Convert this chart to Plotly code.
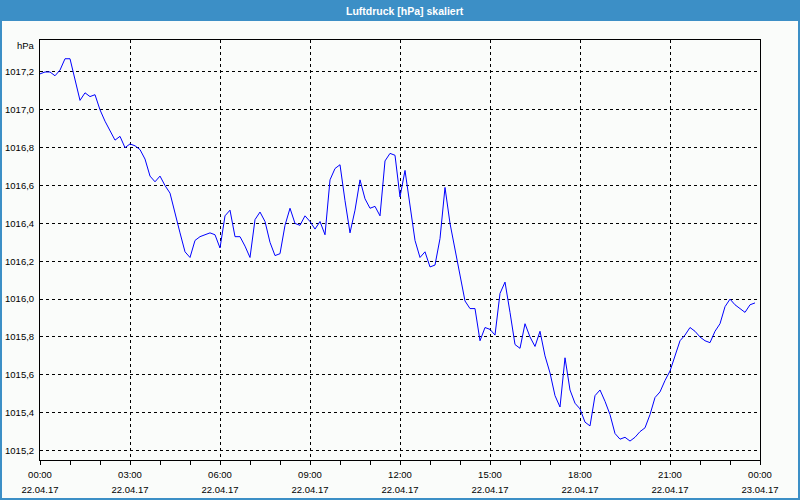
import plotly.graph_objects as go
import pandas as pd

# ---- data (10-minute readings, 22.04.17 00:00 onward) ----
start_time = "2017-04-22 00:00"
step = "10min"
pressure_hpa = [
    1017.19, 1017.20, 1017.20, 1017.18, 1017.21, 1017.27, 1017.27, 1017.16, 1017.05, 1017.09,
    1017.07, 1017.08, 1017.00, 1016.94, 1016.89, 1016.84, 1016.86, 1016.80, 1016.82, 1016.81,
    1016.79, 1016.74, 1016.65, 1016.62, 1016.65, 1016.60, 1016.56, 1016.45, 1016.35, 1016.25,
    1016.22, 1016.31, 1016.33, 1016.34, 1016.35, 1016.34, 1016.27, 1016.44, 1016.47, 1016.33,
    1016.33, 1016.28, 1016.22, 1016.42, 1016.46, 1016.41, 1016.30, 1016.23, 1016.24, 1016.39,
    1016.48, 1016.40, 1016.39, 1016.44, 1016.41, 1016.37, 1016.41, 1016.34, 1016.63, 1016.69,
    1016.71, 1016.52, 1016.35, 1016.47, 1016.63, 1016.53, 1016.48, 1016.49, 1016.44, 1016.73,
    1016.77, 1016.76, 1016.54, 1016.68, 1016.48, 1016.31, 1016.22, 1016.25, 1016.17, 1016.18,
    1016.32, 1016.59, 1016.40, 1016.26, 1016.12, 1015.99, 1015.95, 1015.95, 1015.78, 1015.85,
    1015.84, 1015.81, 1016.03, 1016.09, 1015.93, 1015.76, 1015.74, 1015.87, 1015.80, 1015.75,
    1015.83, 1015.70, 1015.61, 1015.49, 1015.43, 1015.69, 1015.52, 1015.45, 1015.42, 1015.35,
    1015.33, 1015.49, 1015.52, 1015.46, 1015.39, 1015.29, 1015.26, 1015.27, 1015.25, 1015.27,
    1015.30, 1015.32, 1015.39, 1015.48, 1015.51, 1015.57, 1015.62, 1015.70, 1015.78, 1015.81,
    1015.85, 1015.83, 1015.80, 1015.78, 1015.77, 1015.83, 1015.87, 1015.96, 1016.00, 1015.97,
    1015.95, 1015.93, 1015.97, 1015.98,
]
x_range = ["2017-04-22 00:00", "2017-04-23 00:00"]
y_range = [1015.150, 1017.369]
x_tick_times = pd.date_range("2017-04-22 00:00", "2017-04-23 00:00", freq="3h")
title_text = "Luftdruck [hPa] skaliert"
unit_label = "hPa"

times = pd.date_range(start_time, periods=len(pressure_hpa), freq=step)

W, H = 800, 500
ML, MR, MT, MB = 40, 40, 40, 40
PW, PH = W - ML - MR, H - MT - MB


def px(xp):
    return (xp - ML) / PW


def py(yp):
    return (H - MB - yp) / PH


FONT = "Liberation Sans, Arial, sans-serif"
BLUE = "#3c8fc6"
BG = "#fafcfa"
SMALL = 9.5

x_tick_text = [
    f"<span style='font-size:{SMALL}px'>{t:%H:%M}</span><br>"
    f"<span style='font-size:{SMALL}px'>{t:%d.%m.%y}</span>"
    for t in x_tick_times
]

fig = go.Figure()
fig.add_trace(go.Scatter(x=times, y=pressure_hpa, mode="lines",
                         line=dict(color="#0000ff", width=1), hoverinfo="skip"))

fig.update_layout(
    width=W, height=H,
    margin=dict(l=ML, r=MR, t=MT, b=MB, pad=0, autoexpand=False),
    paper_bgcolor=BG, plot_bgcolor=BG,
    showlegend=False,
    separators=", ",
    font=dict(family=FONT, size=SMALL, color="#000000"),
)

fig.update_xaxes(
    type="date", range=x_range, automargin=False,
    tickmode="array", tickvals=list(x_tick_times), ticktext=x_tick_text,
    ticks="outside", ticklen=4, tickcolor="#000000", tickwidth=1,
    minor=dict(dtick=3600000, tick0="2017-04-22 00:00", ticks="outside", ticklen=4,
               tickcolor="#000000", showgrid=False),
    showgrid=True, gridcolor="#000000", gridwidth=1, griddash="3px,3px",
    showline=True, linecolor="#000000", linewidth=1, mirror=True,
    zeroline=False,
    tickfont=dict(family=FONT, size=11, color="#000000"),
)

fig.update_yaxes(
    range=y_range, tick0=1015.2, dtick=0.2, tickformat=".1f", automargin=False,
    ticks="", ticklabelstandoff=3,
    showgrid=True, gridcolor="#000000", gridwidth=1, griddash="3px,3px",
    showline=True, linecolor="#000000", linewidth=1, mirror=True,
    zeroline=False,
    tickfont=dict(family=FONT, size=SMALL, color="#000000"),
)

# title bar and outer frame
fig.add_shape(type="rect", xref="paper", yref="paper",
              x0=px(0), x1=px(W), y0=py(21), y1=py(0),
              fillcolor=BLUE, line=dict(width=0), layer="below")
fig.add_shape(type="rect", xref="paper", yref="paper",
              x0=px(1), x1=px(W - 1), y0=py(H - 1), y1=py(1),
              fillcolor="rgba(0,0,0,0)", line=dict(color=BLUE, width=2))

fig.add_annotation(text=title_text, xref="paper", yref="paper",
                   x=px(405), y=py(10.5), xanchor="center", yanchor="middle",
                   showarrow=False, font=dict(family=FONT, size=10.5,
                                              color="#ffffff", weight="bold"))
fig.add_annotation(text=unit_label, xref="paper", yref="paper",
                   x=px(37), y=py(45.5), xanchor="right", yanchor="middle",
                   showarrow=False, font=dict(family=FONT, size=SMALL, color="#000000"))

fig.write_html("out.html")
